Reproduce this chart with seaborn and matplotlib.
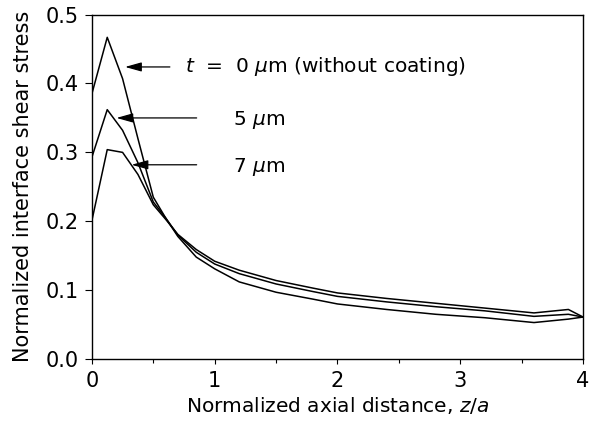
import pandas as pd
import seaborn as sns
import matplotlib.pyplot as plt
from matplotlib.ticker import MultipleLocator, FormatStrFormatter

# z/a positions and normalized shear stress
z = [0, 0.125, 0.25, 0.375, 0.5, 0.6, 0.7, 0.85, 1.0, 1.2, 1.5, 1.8, 2.0, 2.4, 2.8, 3.2, 3.6, 3.88, 4.0]
t0 = [0.385, 0.467, 0.407, 0.320, 0.235, 0.205, 0.178, 0.148, 0.131, 0.112, 0.097, 0.087, 0.080, 0.072, 0.065, 0.060, 0.053, 0.058, 0.061]
t5 = [0.293, 0.362, 0.332, 0.285, 0.228, 0.205, 0.180, 0.155, 0.138, 0.124, 0.109, 0.098, 0.091, 0.083, 0.076, 0.070, 0.062, 0.065, 0.061]
t7 = [0.201, 0.304, 0.300, 0.268, 0.224, 0.203, 0.181, 0.159, 0.142, 0.129, 0.114, 0.103, 0.096, 0.088, 0.081, 0.074, 0.067, 0.072, 0.061]
labels = ['$t$  =  0 $\\mu$m (without coating)', '5 $\\mu$m', '7 $\\mu$m']

df = pd.concat([
    pd.DataFrame({'z': z, 'tau': t0, 'coat': '0'}),
    pd.DataFrame({'z': z, 'tau': t5, 'coat': '5'}),
    pd.DataFrame({'z': z, 'tau': t7, 'coat': '7'}),
])

sns.set_style('ticks')
plt.rcParams['font.family'] = ['DejaVu Sans']
plt.rcParams['mathtext.fontset'] = 'dejavusans'
plt.rcParams['text.color'] = 'black'
plt.rcParams['axes.labelcolor'] = 'black'

fig = plt.figure(figsize=(5.89, 4.29), dpi=100)
ax = fig.add_axes([0.156, 0.163, 0.834, 0.803])
sns.lineplot(data=df, x='z', y='tau', hue='coat', palette=['black'] * 3,
             linewidth=1.1, legend=False, ax=ax, sort=False)

ax.set_xlim(0, 4)
ax.set_ylim(0, 0.5)
ax.xaxis.set_major_locator(MultipleLocator(1))
ax.xaxis.set_minor_locator(MultipleLocator(0.5))
ax.yaxis.set_major_locator(MultipleLocator(0.1))
ax.yaxis.set_major_formatter(FormatStrFormatter('%.1f'))
ax.tick_params(axis='both', which='major', direction='out', width=0.8, labelsize=15, colors='black')
ax.tick_params(axis='x', which='major', length=3.5, pad=5)
ax.tick_params(axis='y', which='major', length=5, pad=4.5)
ax.tick_params(axis='x', which='minor', direction='out', length=3, width=0.8, colors='black')
for s in ax.spines.values():
    s.set_visible(True)
    s.set_linewidth(1.0)
    s.set_color('black')

ax.set_xlabel('Normalized axial distance, $z/a$', fontsize=14.5, labelpad=3)
ax.set_ylabel('Normalized interface shear stress', fontsize=15, labelpad=9)

# arrows pointing at each curve (tip, tail), label position
arrows = [((0.27, 0.424), (0.635, 0.424)), ((0.20, 0.35), (0.853, 0.35)), ((0.323, 0.282), (0.853, 0.282))]
text_pos = [(0.758, 0.424), (1.15, 0.347), (1.15, 0.279)]
for (tip, tail), (tx, ty), lab in zip(arrows, text_pos, labels):
    ax.annotate('', xy=tip, xytext=tail,
                arrowprops=dict(arrowstyle='-|>,head_length=1.0,head_width=0.28',
                                color='black', lw=0.9, shrinkA=0, shrinkB=0))
    ax.text(tx, ty, lab, fontsize=14.5, va='center', ha='left', color='black')

fig.savefig('out.png', dpi=100)
